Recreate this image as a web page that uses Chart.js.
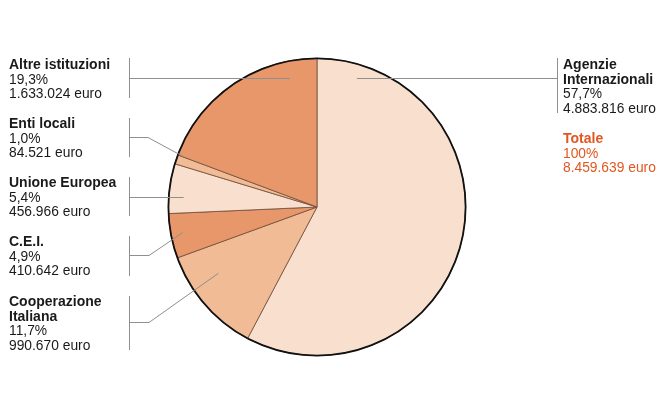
<!DOCTYPE html>
<html lang="it">
<head>
<meta charset="UTF-8">
<title>Fonti di finanziamento</title>
<script src="https://cdn.jsdelivr.net/npm/chart.js"></script>
<style>
  body { margin: 0; background: #fff; }
</style>
</head>
<body>
<canvas id="torta" width="670" height="400"></canvas>
<script>
// dati (ordine delle fette, in senso orario dall'alto)
var categorie = ['Agenzie Internazionali', 'Cooperazione Italiana', 'C.E.I.', 'Unione Europea', 'Enti locali', 'Altre istituzioni'];
var importi = [4883816, 990670, 410642, 456966, 84521, 1633024];
var percentuali = ['57,7%', '11,7%', '4,9%', '5,4%', '1,0%', '19,3%'];
var importiTesto = ['4.883.816 euro', '990.670 euro', '410.642 euro', '456.966 euro', '84.521 euro', '1.633.024 euro'];
var titoli = [['Agenzie', 'Internazionali'], ['Cooperazione', 'Italiana'], ['C.E.I.'], ['Unione Europea'], ['Enti locali'], ['Altre istituzioni']];
var totale = ['Totale', '100%', '8.459.639 euro'];

var colori = ['#f9dfcd', '#f1bb95', '#e8976a', '#f9dfcd', '#f1bb95', '#e8976a'];

// impaginazione delle etichette (x testo, prima linea base, barra verticale, linea guida)
var etichette = [
  { x: 563, y: 69,  barX: 557, bar: [58, 113], lineaY: 78,  gomito: null, ang: -72.8, r: 0.91 },
  { x: 9,   y: 306, barX: 129, bar: [296, 350], lineaY: 322, gomito: 149, ang: 146.1, r: 0.80 },
  { x: 9,   y: 246, barX: 129, bar: [236, 276], lineaY: 255, gomito: 149, ang: 169.2, r: 0.92 },
  { x: 9,   y: 187, barX: 129, bar: [177, 216], lineaY: 197, gomito: null, ang: 184.5, r: 0.90 },
  { x: 9,   y: 128, barX: 129, bar: [118, 157], lineaY: 137, gomito: 148, ang: 200.7, r: 0.964 },
  { x: 9,   y: 69,  barX: 129, bar: [58, 98],   lineaY: 78,  gomito: null, ang: -101.8, r: 0.89 }
];

var FONT = '"Liberation Sans", Arial, sans-serif';
var INTERLINEA = 14.5;

var etichettePlugin = {
  id: 'etichette',
  afterDraw: function(chart) {
    var ctx = chart.ctx;
    var arco = chart.getDatasetMeta(0).data[0];
    var cx = arco.x, cy = arco.y, R = arco.outerRadius;

    ctx.save();
    // bordo esterno nero
    ctx.beginPath();
    ctx.arc(cx, cy, R, 0, Math.PI * 2);
    ctx.lineWidth = 1.8;
    ctx.strokeStyle = '#111';
    ctx.stroke();

    ctx.lineWidth = 1;
    ctx.strokeStyle = '#8f8f8f';
    etichette.forEach(function(e, i) {
      // barra verticale
      ctx.beginPath();
      ctx.moveTo(e.barX + 0.5, e.bar[0]);
      ctx.lineTo(e.barX + 0.5, e.bar[1]);
      ctx.stroke();
      // linea guida
      var a = e.ang * Math.PI / 180;
      var px = cx + Math.cos(a) * R * e.r;
      var py = cy + Math.sin(a) * R * e.r;
      ctx.beginPath();
      ctx.moveTo(e.barX, e.lineaY + 0.5);
      if (e.gomito === null) {
        ctx.lineTo(px, e.lineaY + 0.5);
      } else {
        ctx.lineTo(e.gomito, e.lineaY + 0.5);
        ctx.lineTo(px, py);
      }
      ctx.stroke();

      // testo
      ctx.textBaseline = 'alphabetic';
      ctx.textAlign = 'left';
      ctx.fillStyle = '#1a1a1a';
      var y = e.y;
      ctx.font = 'bold 14px ' + FONT;
      titoli[i].forEach(function(t) {
        ctx.fillText(t, e.x, y);
        y += INTERLINEA;
      });
      ctx.font = '13.8px ' + FONT;
      ctx.fillText(percentuali[i], e.x, y);
      y += INTERLINEA;
      ctx.fillText(importiTesto[i], e.x, y);
    });

    // totale
    var t = etichette[0];
    ctx.fillStyle = '#e2561f';
    ctx.font = 'bold 14px ' + FONT;
    ctx.fillText(totale[0], t.x, 143);
    ctx.font = '13.8px ' + FONT;
    ctx.fillText(totale[1], t.x, 143 + INTERLINEA);
    ctx.fillText(totale[2], t.x, 143 + INTERLINEA * 2);
    ctx.restore();
  }
};

new Chart(document.getElementById('torta').getContext('2d'), {
  type: 'pie',
  data: {
    labels: categorie,
    datasets: [{
      data: importi,
      backgroundColor: colori,
      borderColor: '#6e4c3a',
      borderWidth: 0.8,
      hoverOffset: 0
    }]
  },
  options: {
    responsive: false,
    animation: false,
    events: [],
    layout: { padding: { left: 168, right: 204, top: 58, bottom: 44 } },
    plugins: {
      legend: { display: false },
      tooltip: { enabled: false }
    }
  },
  plugins: [etichettePlugin]
});
</script>
</body>
</html>
